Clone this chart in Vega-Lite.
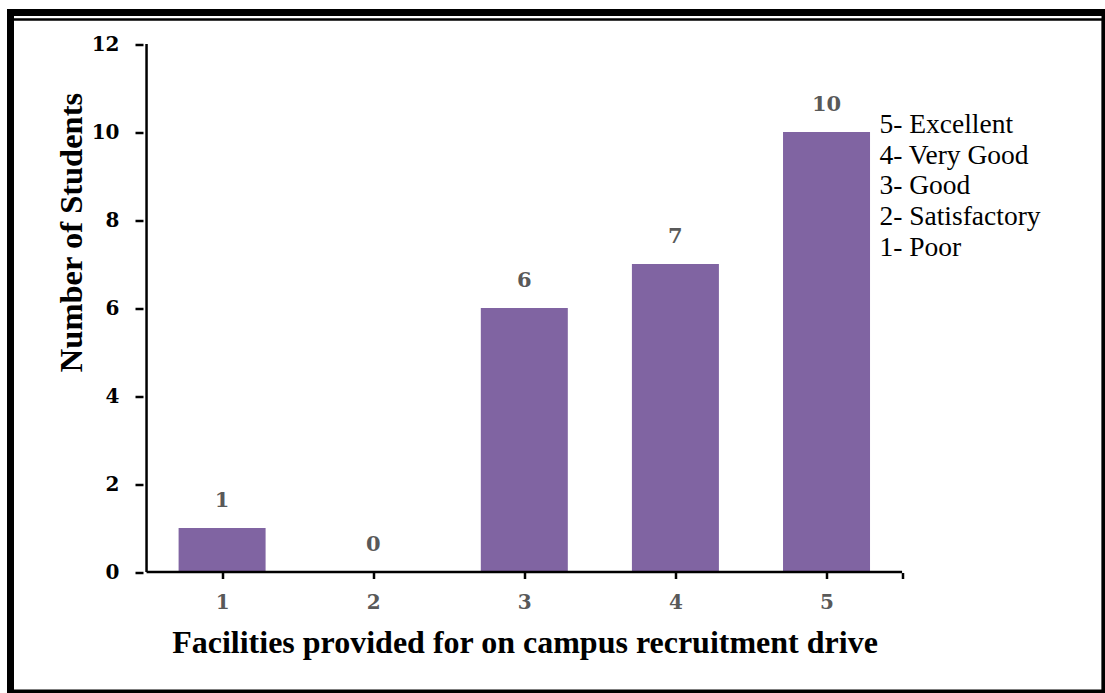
{
  "$schema": "https://vega.github.io/schema/vega-lite/v6.json",
  "width": 1094.5,
  "height": 680.5,
  "autosize": {"type": "none"},
  "padding": {"left": 10.5, "top": 12.5, "right": 0, "bottom": 0},
  "background": "white",
  "config": {"view": {"stroke": "black", "strokeWidth": 7, "fill": "white"}},
  "data": {"values": [
    {"rating": 1, "students": 1},
    {"rating": 2, "students": 0},
    {"rating": 3, "students": 6},
    {"rating": 4, "students": 7},
    {"rating": 5, "students": 10}
  ]},
  "layer": [
    {
      "data": {"values": [{}]},
      "mark": {"type": "rect", "filled": false, "stroke": "black", "strokeWidth": 2.5, "x2Offset": 8, "xOffset": -2, "yOffset": 7, "y2Offset": -5.5},
      "encoding": {}
    },
    {
      "mark": {"type": "bar", "size": 87, "color": "#8064A2"},
      "encoding": {
        "x": {
          "field": "rating", "type": "quantitative",
          "scale": {"domain": [-0.3672, 6.8098], "nice": false, "zero": false},
          "axis": {
            "values": [1, 2, 3, 4, 5, 5.5],
            "labelExpr": "datum.value == 5.5 ? '' : format(datum.value, 'd')",
            "offset": -120.5, "domain": false, "grid": false,
            "tickSize": 6, "tickWidth": 2.5, "tickColor": "black",
            "labelFont": "DejaVu Serif", "labelFontWeight": "bold", "labelFontSize": 20, "labelColor": "#595959", "labelPadding": 14,
            "title": "Facilities provided for on campus recruitment drive",
            "titleFont": "Liberation Serif", "titleFontWeight": "bold", "titleFontSize": 32, "titleColor": "black",
            "titleX": 514, "titleY": 80, "titleBaseline": "alphabetic", "titleAlign": "center"
          }
        },
        "y": {
          "field": "students", "type": "quantitative",
          "scale": {"domain": [-2.75, 12.716], "nice": false, "zero": false},
          "axis": {
            "values": [0, 2, 4, 6, 8, 10, 12],
            "offset": -132.5, "domain": false, "grid": false,
            "tickSize": 8, "tickWidth": 2.5, "tickColor": "black",
            "labelFont": "DejaVu Serif", "labelFontWeight": "bold", "labelFontSize": 20, "labelColor": "black", "labelPadding": 16,
            "title": "Number of Students",
            "titleFont": "Liberation Serif", "titleFontWeight": "bold", "titleFontSize": 32.5, "titleColor": "black",
            "titleAngle": -90, "titleX": -72, "titleY": 219.5, "titleBaseline": "middle", "titleAlign": "center"
          }
        },
        "y2": {"datum": 0}
      }
    },
    {
      "mark": {"type": "text", "font": "DejaVu Serif", "fontWeight": "bold", "fontSize": 21, "color": "#595959", "baseline": "middle", "dy": -27},
      "encoding": {
        "x": {"field": "rating", "type": "quantitative"},
        "y": {"field": "students", "type": "quantitative"},
        "text": {"field": "students"}
      }
    },
    {
      "data": {"values": [{}]},
      "mark": {"type": "rule", "color": "black", "strokeWidth": 2.5},
      "encoding": {"x": {"datum": 0.5}, "x2": {"datum": 5.5}, "y": {"datum": 0}}
    },
    {
      "data": {"values": [{}]},
      "mark": {"type": "rule", "color": "black", "strokeWidth": 2.5},
      "encoding": {"x": {"datum": 0.5}, "y": {"datum": 0}, "y2": {"datum": 12}}
    },
    {
      "data": {"values": [{"lines": ["5- Excellent", "4- Very Good", "3- Good", "2- Satisfactory", "1- Poor"]}]},
      "mark": {"type": "text", "align": "left", "baseline": "alphabetic", "font": "Liberation Serif", "fontSize": 27.5, "lineHeight": 30.8, "color": "black"},
      "encoding": {"x": {"datum": 5.35}, "y": {"datum": 9.98}, "text": {"field": "lines"}}
    }
  ]
}
